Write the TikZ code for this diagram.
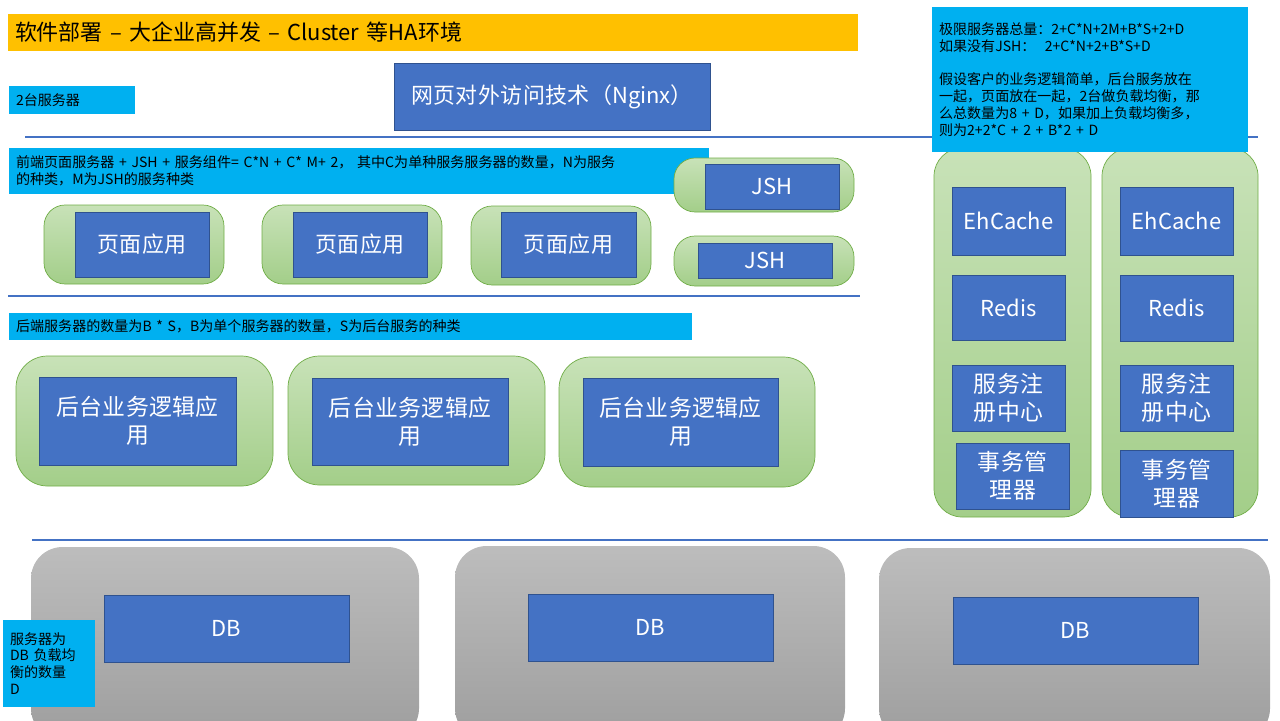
\documentclass[tikz,border=0pt]{standalone}
\usepackage{fontspec}
\setmainfont{Noto Sans CJK SC}
\XeTeXlinebreaklocale "zh"
\XeTeXlinebreakskip=0pt plus 1pt
\begin{document}
\definecolor{cy}{RGB}{0,176,240}
\definecolor{yl}{RGB}{255,192,0}
\definecolor{bl}{RGB}{68,114,196}
\definecolor{bld}{RGB}{47,82,143}
\definecolor{gr}{RGB}{112,173,71}
\definecolor{grl}{RGB}{200,226,184}
\definecolor{grd}{RGB}{163,206,137}
\newcommand\R[7]{\node[#1,minimum width={(#5-#3)*0.02cm},minimum height={(#6-#4)*0.02cm},text width={(#5-#3)*0.02cm-8pt}] (#2) at ({(#3+#5)/2},{(#4+#6)/2}) {#7};}
\begin{tikzpicture}[x=0.02cm,y=-0.02cm,
 box/.style={draw=bld,fill=bl,text=white,inner sep=0pt,align=center,font=\fontsize{12.5}{14}\selectfont},
 big/.style={box,font=\fontsize{13}{16}\selectfont},
 note/.style={fill=cy,inner sep=0pt,align=left,font=\fontsize{8}{9.6}\selectfont},
 grn/.style={draw=gr,top color=grl,bottom color=grd,rounded corners=12pt,inner sep=0pt},
 gry/.style={top color=white!74!black,bottom color=white!62!black,rounded corners=18pt,inner sep=0pt,draw=none},
 sep/.style={draw=bl,line width=0.6pt}]
\useasboundingbox (0,0) rectangle (1280,720);
\begin{scope}
\clip (0,0) rectangle (1280,720);
% separators
\coordinate (l1a) at (25,137); \coordinate (l1b) at (1258,137);
\coordinate (l2a) at (8,296); \coordinate (l2b) at (860,296);
\coordinate (l3a) at (32,540); \coordinate (l3b) at (1268,540);
\draw[sep] (l1a)--(l1b); \draw[sep] (l2a)--(l2b); \draw[sep] (l3a)--(l3b);
% title
\R{fill=yl,inner sep=0pt,align=left,font=\fontsize{12.5}{15}\selectfont}{title}{8}{14}{858}{51}{软件部署 – 大企业高并发 – Cluster 等HA环境}
\R{note}{two}{9}{86}{135}{114}{2台服务器}
\R{box}{nginx}{394}{63}{710}{130}{网页对外访问技术（Nginx）}
\R{note}{front}{9}{148}{709}{194}{前端页面服务器 + JSH + 服务组件= C*N + C* M+ 2， 其中C为单种服务服务器的数量，N为服务\\的种类，M为JSH的服务种类}
% page apps
\R{grn}{g1}{44}{205}{224}{284}{}
\R{grn}{g2}{262}{205}{442}{284}{}
\R{grn}{g3}{471}{206}{651}{285}{}
\R{box}{p1}{75}{212}{209}{277}{页面应用}
\R{box}{p2}{293}{212}{427}{277}{页面应用}
\R{box}{p3}{501}{212}{636}{277}{页面应用}
\R{grn}{gj1}{674}{158}{854}{212}{}
\R{grn}{gj2}{674}{236}{854}{286}{}
\R{box}{j2}{698}{243}{832}{278}{JSH}
% back
\R{note}{back}{9}{313}{692}{340}{后端服务器的数量为B * S，B为单个服务器的数量，S为后台服务的种类}
\R{grn,rounded corners=18pt}{b1}{16}{356}{273}{486}{}
\R{grn,rounded corners=18pt}{b2}{288}{356}{545}{485}{}
\R{grn,rounded corners=18pt}{b3}{559}{357}{815}{487}{}
\R{big}{bb1}{39}{377}{236}{465}{后台业务逻辑应\\用}
\R{big}{bb2}{312}{378}{508}{465}{后台业务逻辑应\\用}
\R{big}{bb3}{583}{378}{778}{466}{后台业务逻辑应\\用}
% right columns
\R{grn,rounded corners=16pt}{c1}{934}{148}{1091}{517}{}
\R{grn,rounded corners=16pt}{c2}{1102}{148}{1258}{517}{}
\R{box}{e1}{952}{187}{1065}{255}{EhCache}
\R{box}{r1}{952}{275}{1065}{340}{Redis}
\R{big}{s1}{952}{365}{1065}{431}{服务注\\册中心}
\R{big}{t1}{956}{443}{1069}{509}{事务管\\理器}
\R{box}{e2}{1120}{187}{1233}{255}{EhCache}
\R{box}{r2}{1120}{275}{1233}{341}{Redis}
\R{big}{s2}{1120}{365}{1233}{431}{服务注\\册中心}
\R{big}{t2}{1120}{450}{1233}{517}{事务管\\理器}
\R{note}{summary}{932}{7}{1248}{152}{极限服务器总量：2+C*N+2M+B*S+2+D\\如果没有JSH：\ \ 2+C*N+2+B*S+D\\[9.6pt]假设客户的业务逻辑简单，后台服务放在\\一起，页面放在一起，2台做负载均衡，那\\么总数量为8 + D，如果加上负载均衡多，\\则为2+2*C + 2 + B*2 + D}
\R{box}{j1}{705}{164}{839}{209}{JSH}
% DB
\R{gry}{d1}{31}{547}{419}{740}{}
\R{gry}{d2}{455}{546}{845}{740}{}
\R{gry}{d3}{879}{548}{1270}{740}{}
\R{box}{db1}{104}{595}{349}{662}{DB}
\R{box}{db2}{528}{594}{773}{661}{DB}
\R{box}{db3}{953}{597}{1198}{664}{DB}
\R{note}{dbn}{3}{620}{95}{707}{服务器为\\DB 负载均\\衡的数量\\D}
\end{scope}
\end{tikzpicture}
\end{document}
